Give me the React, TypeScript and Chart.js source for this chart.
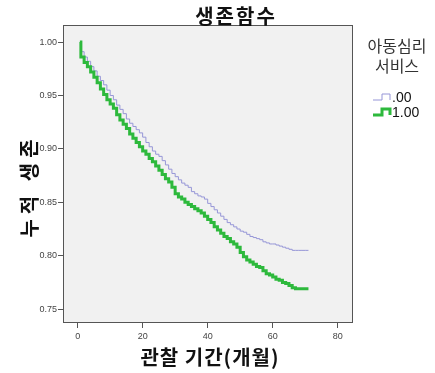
import React, { useEffect, useRef } from "react";
import { Chart, registerables } from "chart.js";

Chart.register(...registerables);

const chartTitle = "생존함수";
const xTitle = "관찰 기간(개월)";
const yTitle = "누적 생존";
const legendTitle = ["아동심리", "서비스"];
const seriesLabels = [".00", "1.00"];

const xTicks = [0, 20, 40, 60, 80];
const yTicks = [0.75, 0.8, 0.85, 0.9, 0.95, 1.0];

const months = [
  0.7, 1, 2, 3, 4, 5, 6, 7, 8, 9, 10, 11, 12, 13, 14, 15, 16, 17, 18, 19, 20,
  21, 22, 23, 24, 25, 26, 27, 28, 29, 30, 31, 32, 33, 34, 35, 36, 37, 38, 39,
  40, 41, 42, 43, 44, 45, 46, 47, 48, 49, 50, 51, 52, 53, 54, 55, 56, 57, 58,
  59, 60, 61, 62, 63, 64, 65, 66, 67, 68, 69, 70, 71,
];

// series ".00"
const survival00 = [
  1.0, 0.991, 0.986, 0.982, 0.977, 0.973, 0.968, 0.964, 0.96, 0.955, 0.95,
  0.946, 0.941, 0.937, 0.933, 0.928, 0.924, 0.921, 0.918, 0.915, 0.911, 0.906,
  0.902, 0.898, 0.895, 0.893, 0.889, 0.885, 0.881, 0.877, 0.874, 0.871, 0.868,
  0.866, 0.864, 0.86, 0.858, 0.856, 0.855, 0.853, 0.849, 0.846, 0.843, 0.84,
  0.837, 0.834, 0.831, 0.829, 0.827, 0.825, 0.823, 0.822, 0.82, 0.818, 0.817,
  0.816, 0.815, 0.813, 0.812, 0.811, 0.811, 0.81, 0.809, 0.808, 0.807, 0.806,
  0.805, 0.805, 0.805, 0.805, 0.805, 0.805,
];

// series "1.00"
const survival100 = [
  1.0, 0.986, 0.981, 0.977, 0.972, 0.967, 0.962, 0.956, 0.951, 0.946, 0.942,
  0.938, 0.932, 0.927, 0.923, 0.919, 0.914, 0.91, 0.906, 0.902, 0.898, 0.895,
  0.891, 0.888, 0.884, 0.88, 0.876, 0.872, 0.869, 0.864, 0.858, 0.855, 0.853,
  0.85, 0.848, 0.846, 0.844, 0.842, 0.84, 0.837, 0.834, 0.831, 0.827, 0.824,
  0.821, 0.818, 0.816, 0.813, 0.811, 0.808, 0.803, 0.799, 0.796, 0.794, 0.792,
  0.79, 0.789, 0.786, 0.783, 0.782, 0.78, 0.778, 0.777, 0.775, 0.774, 0.772,
  0.77, 0.769, 0.769, 0.769, 0.769, 0.769,
];

const PURPLE = "rgb(150,150,215)";
const GREEN = "rgb(45,185,60)";

const framePlugin = {
  id: "frameAndText",
  beforeDraw(chart: any) {
    const { ctx, chartArea } = chart;
    ctx.save();
    ctx.fillStyle = "#ffffff";
    ctx.fillRect(0, 0, chart.width, chart.height);
    ctx.fillStyle = "#f1f1f1";
    ctx.fillRect(
      chartArea.left,
      chartArea.top,
      chartArea.right - chartArea.left,
      chartArea.bottom - chartArea.top
    );
    ctx.restore();
  },
  afterDraw(chart: any) {
    const { ctx, chartArea } = chart;
    ctx.save();
    ctx.strokeStyle = "#555555";
    ctx.lineWidth = 1;
    ctx.strokeRect(
      Math.round(chartArea.left) + 0.5,
      Math.round(chartArea.top) + 0.5,
      Math.round(chartArea.right - chartArea.left) - 1,
      Math.round(chartArea.bottom - chartArea.top) - 1
    );

    ctx.fillStyle = "#111111";
    ctx.textAlign = "center";
    ctx.textBaseline = "middle";

    // title
    ctx.font = "bold 20px 'Noto Sans CJK KR'";
    (ctx as any).letterSpacing = "2px";
    ctx.fillText(chartTitle, 236, 16);

    // x title
    ctx.font = "bold 20px 'Noto Sans CJK KR'";
    (ctx as any).letterSpacing = "1px";
    ctx.fillText(xTitle, 210, 357);

    // y title
    ctx.save();
    ctx.translate(29, 188);
    ctx.rotate(-Math.PI / 2);
    (ctx as any).letterSpacing = "5px";
    ctx.fillText(yTitle, 2, 0);
    ctx.restore();

    (ctx as any).letterSpacing = "0px";

    // legend
    ctx.fillStyle = "#333333";
    ctx.font = "16px 'Noto Sans CJK KR'";
    ctx.fillText(legendTitle[0], 397, 46);
    ctx.fillText(legendTitle[1], 397, 66);

    const rows = [
      { y: 97, color: PURPLE, width: 1, label: seriesLabels[0] },
      { y: 112, color: GREEN, width: 3, label: seriesLabels[1] },
    ];
    rows.forEach((r) => {
      ctx.strokeStyle = r.color;
      ctx.lineWidth = r.width;
      ctx.beginPath();
      ctx.moveTo(373, r.y + 3);
      ctx.lineTo(382, r.y + 3);
      ctx.lineTo(382, r.y - 3);
      ctx.lineTo(390, r.y - 3);
      ctx.lineTo(390, r.y + 3);
      ctx.stroke();
      ctx.fillStyle = "#111111";
      ctx.textAlign = "left";
      ctx.font = "14px 'Liberation Sans'";
      ctx.fillText(r.label, 392, r.y + 1);
    });
    ctx.restore();
  },
};

export default function App() {
  const canvasRef = useRef<HTMLCanvasElement | null>(null);

  useEffect(() => {
    const canvas = canvasRef.current;
    if (!canvas) return;
    const toPoints = (vals: number[]) =>
      months.map((m, i) => ({ x: m, y: vals[i] }));

    const chart = new Chart(canvas, {
      type: "line",
      data: {
        datasets: [
          {
            label: seriesLabels[0],
            data: toPoints(survival00),
            borderColor: PURPLE,
            borderWidth: 1,
            stepped: "before",
            pointRadius: 0,
            fill: false,
            order: 1,
          },
          {
            label: seriesLabels[1],
            data: toPoints(survival100),
            borderColor: GREEN,
            borderWidth: 3,
            stepped: "before",
            pointRadius: 0,
            fill: false,
            order: 0,
          },
        ],
      },
      options: {
        animation: false,
        responsive: false,
        devicePixelRatio: 1,
        layout: { padding: { top: 25, right: 82, left: 0, bottom: 0 } },
        plugins: {
          legend: { display: false },
          tooltip: { enabled: false },
          title: { display: false },
        },
        scales: {
          x: {
            type: "linear",
            min: -4.5,
            max: 84.7,
            afterBuildTicks: (scale: any) => {
              scale.ticks = xTicks.map((v) => ({ value: v }));
            },
            afterFit: (scale: any) => {
              scale.height = 50;
            },
            grid: {
              display: true,
              drawOnChartArea: false,
              drawTicks: true,
              tickLength: 5,
              color: "#555555",
            },
            border: { display: false },
            ticks: {
              font: { size: 9, family: "'Liberation Sans'" },
              color: "#444444",
              padding: 3,
              maxRotation: 0,
              callback: (v: any) => String(v),
            },
          },
          y: {
            type: "linear",
            min: 0.737,
            max: 1.016,
            afterBuildTicks: (scale: any) => {
              scale.ticks = yTicks.map((v) => ({ value: v }));
            },
            afterFit: (scale: any) => {
              scale.width = 63;
            },
            grid: {
              display: true,
              drawOnChartArea: false,
              drawTicks: true,
              tickLength: 5,
              color: "#555555",
            },
            border: { display: false },
            ticks: {
              font: { size: 9, family: "'Liberation Sans'" },
              color: "#444444",
              padding: 1,
              callback: (v: any) => Number(v).toFixed(2),
            },
          },
        },
      },
      plugins: [framePlugin],
    } as any);

    return () => chart.destroy();
  }, []);

  return (
    <div style={{ position: "absolute", left: 0, top: 0, width: 435, height: 373 }}>
      <canvas ref={canvasRef} width={435} height={373} />
    </div>
  );
}
